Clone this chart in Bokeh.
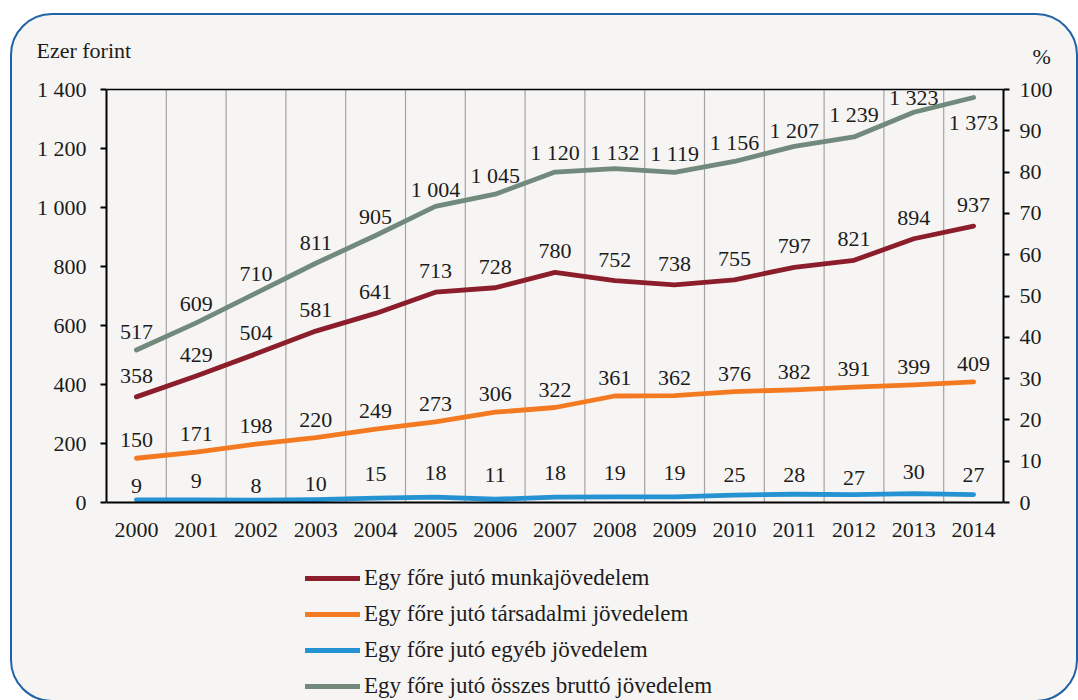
from bokeh.plotting import figure
from bokeh.models import (Range1d, LinearAxis, FixedTicker, CustomJSTickFormatter,
                          ColumnDataSource, LabelSet, Label, Legend, LegendItem, Span)
from bokeh.embed import file_html
from bokeh.resources import INLINE
from bokeh.core.properties import value

# ---------------- data ----------------
years = ["2000", "2001", "2002", "2003", "2004", "2005", "2006", "2007",
         "2008", "2009", "2010", "2011", "2012", "2013", "2014"]
munka = [358, 429, 504, 581, 641, 713, 728, 780, 752, 738, 755, 797, 821, 894, 937]
tarsadalmi = [150, 171, 198, 220, 249, 273, 306, 322, 361, 362, 376, 382, 391, 399, 409]
egyeb = [9, 9, 8, 10, 15, 18, 11, 18, 19, 19, 25, 28, 27, 30, 27]
osszes = [517, 609, 710, 811, 905, 1004, 1045, 1120, 1132, 1119, 1156, 1207, 1239, 1323, 1373]
left_ticks = [0, 200, 400, 600, 800, 1000, 1200, 1400]
right_ticks = [0, 10, 20, 30, 40, 50, 60, 70, 80, 90, 100]
names = ["Egy főre jutó munkajövedelem",
         "Egy főre jutó társadalmi jövedelem",
         "Egy főre jutó egyéb jövedelem",
         "Egy főre jutó összes bruttó jövedelem"]
left_title = "Ezer forint"
right_title = "%"

# ---------------- style ----------------
FONT = "Liberation Serif"
FS = "22px"
TXT = "#1c1c1c"
BG = "#f6f5f4"
colors = ["#8c1e2c", "#f47a22", "#2592d2", "#718a7c"]
# vertical offsets of the value labels (px, positive = up)
off_munka = [21] * 15
off_tars = [18] * 15
off_egyeb = [14, 19, 14, 16, 24, 24, 24, 24, 24, 24, 20, 19, 17, 22, 20]
off_osszes = [18, 19, 19, 20, 19, 17, 19, 20, 16, 19, 19, 16, 22, 15, -25]

# geometry (px): plotting band of the value axis, and room below it for the legend
BAND = 413       # 0 .. 1400
TOP_PAD = 2
BELOW = 196      # from value 0 down to the frame bottom (x labels + legend)
FRAME_H = TOP_PAD + BAND + BELOW

ymax = left_ticks[-1]
ystart = -ymax * BELOW / BAND
yend = ymax + ymax * TOP_PAD / BAND
ratio = right_ticks[-1] / ymax

xs = [i + 0.5 for i in range(len(years))]

p = figure(frame_width=897, frame_height=FRAME_H, x_range=Range1d(0, len(years)),
           y_range=Range1d(ystart, yend),
           output_backend="svg", toolbar_location=None,
           min_border_left=94, min_border_right=73,
           min_border_top=72, min_border_bottom=2)
p.styles = {"border": "2px solid #1f62a6", "border-radius": "42px",
            "box-sizing": "border-box", "background-color": BG,
            "margin-left": "10px", "margin-top": "13px"}
p.title.visible = False
p.border_fill_alpha = 0
p.background_fill_alpha = 0
p.outline_line_color = None

# x axis, drawn at value 0
p.xaxis.fixed_location = 0
p.xaxis.ticker = FixedTicker(ticks=xs)
p.xaxis.formatter = CustomJSTickFormatter(args=dict(years=years),
                                          code="return years[Math.floor(tick)]")
p.xaxis.major_tick_line_color = None
p.xaxis.minor_tick_line_color = None
p.xaxis.axis_line_color = "black"
p.xaxis.axis_line_width = 2
p.xaxis.major_label_standoff = 14
p.grid.visible = False

# vertical grid lines at the category boundaries
bounds_x = list(range(1, len(years)))
p.segment(x0=bounds_x, x1=bounds_x, y0=[0] * len(bounds_x), y1=[ymax] * len(bounds_x),
          line_color="#a3a3a3", line_width=1.2)
# top border of the plotting band
p.add_layout(Span(location=ymax, dimension="width", line_color="black", line_width=1.5))

# left axis
p.yaxis.bounds = (left_ticks[0], left_ticks[-1])
p.yaxis.ticker = FixedTicker(ticks=left_ticks)
p.yaxis.formatter = CustomJSTickFormatter(
    code=r"return tick.toFixed(0).replace(/\B(?=(\d{3})+(?!\d))/g, ' ')")
p.yaxis.major_tick_in = 0
p.yaxis.major_tick_out = 6
p.yaxis.minor_tick_line_color = None
p.yaxis.major_tick_line_width = 2
p.yaxis.axis_line_width = 2
p.yaxis.major_label_standoff = 14

# right axis
p.extra_y_ranges = {"pct": Range1d(ystart * ratio, yend * ratio)}
rax = LinearAxis(y_range_name="pct", ticker=FixedTicker(ticks=right_ticks),
                 bounds=(right_ticks[0], right_ticks[-1]))
rax.major_tick_in = 0
rax.major_tick_out = 6
rax.major_tick_line_width = 2
rax.minor_tick_line_color = None
rax.axis_line_width = 2
rax.major_label_standoff = 10
p.add_layout(rax, "right")

for ax in [p.xaxis[0], p.yaxis[0], rax]:
    ax.major_label_text_font = FONT
    ax.major_label_text_font_size = FS
    ax.major_label_text_color = TXT

# lines
series = [munka, tarsadalmi, egyeb, osszes]
offsets = [off_munka, off_tars, off_egyeb, off_osszes]
renderers = []
for ys, c in zip(series, colors):
    r = p.line(xs, ys, line_color=c, line_width=4.8, line_cap="round", line_join="round")
    renderers.append(r)

# value labels
for ys, offs in zip(series, offsets):
    src = ColumnDataSource(dict(x=xs, y=ys, dy=offs,
                                t=[f"{v:,}".replace(",", " ") for v in ys]))
    p.add_layout(LabelSet(x="x", y="y", text="t", y_offset="dy", source=src,
                          text_align="center", text_baseline="middle",
                          text_font=value(FONT), text_font_size=FS, text_color=TXT))

# axis titles (in the panels above the frame)
p.add_layout(Label(x=-70, y=37, x_units="screen", y_units="screen", text=left_title,
                   text_align="left", text_baseline="middle", text_font=FONT,
                   text_font_size=FS, text_color=TXT), "above")
p.add_layout(Label(x=926, y=6, x_units="screen", y_units="screen", text=right_title,
                   text_align="left", text_baseline="middle", text_font=FONT,
                   text_font_size=FS, text_color=TXT), "above")

# legend in the lower part of the frame
legend = Legend(items=[LegendItem(label=n, renderers=[r]) for n, r in zip(names, renderers)],
                location=(199, -1), orientation="vertical")
legend.label_text_font = FONT
legend.label_text_font_size = "23px"
legend.label_text_color = TXT
legend.glyph_width = 55
legend.glyph_height = 26
legend.label_height = 26
legend.spacing = 10
legend.padding = 0
legend.margin = 0
legend.label_standoff = 4
legend.background_fill_alpha = 0
legend.border_line_alpha = 0
p.add_layout(legend)

html = file_html(p, INLINE)
html = html.replace("<body>", '<body style="background-color:%s">' % BG, 1)
open("out.html", "w").write(html)
